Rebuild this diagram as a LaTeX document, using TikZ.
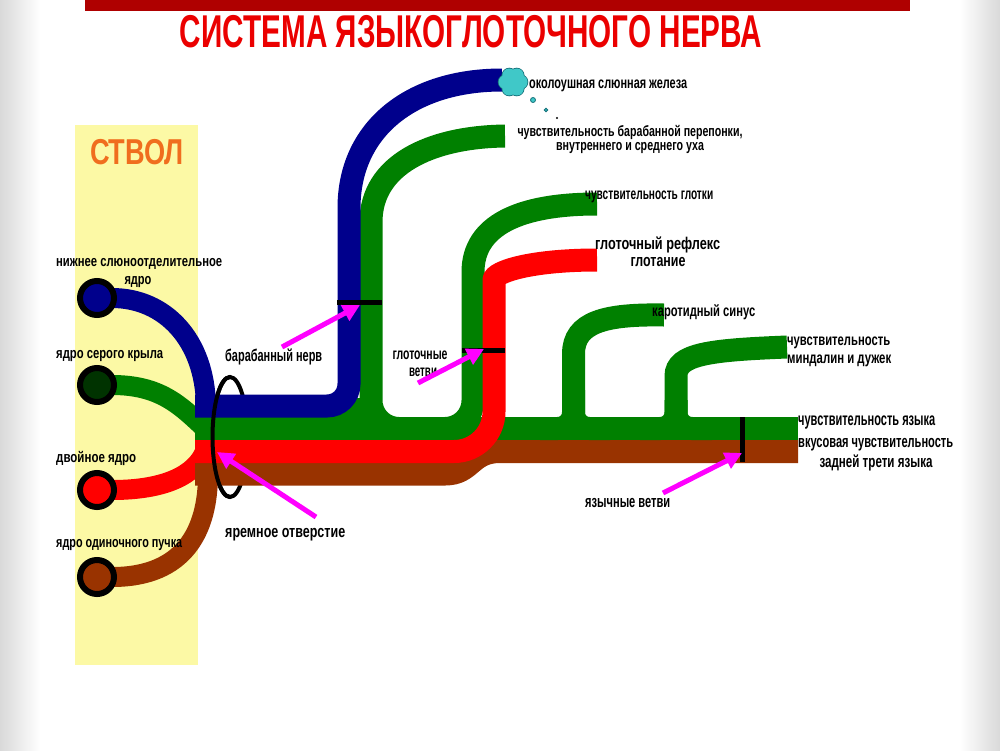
\documentclass[tikz,border=0pt]{standalone}
\usepackage{fontspec}
\setmainfont{Liberation Sans}
\usetikzlibrary{arrows.meta}
\definecolor{nblue}{RGB}{0,0,140}
\definecolor{ngreen}{RGB}{0,128,0}
\definecolor{nred}{RGB}{255,0,0}
\definecolor{nbrown}{RGB}{153,51,0}
\definecolor{ndkgreen}{RGB}{0,51,0}
\definecolor{ncyan}{RGB}{64,200,200}
\definecolor{ncyanline}{RGB}{20,110,120}
\definecolor{nmag}{RGB}{255,0,255}
\definecolor{nyel}{RGB}{252,249,165}
\definecolor{ttlred}{RGB}{235,0,0}
\definecolor{barred}{RGB}{175,0,0}
\definecolor{orng}{RGB}{240,110,30}
\newcommand{\fw}[3]{\resizebox{#1pt}{\height}{\fontsize{#2}{#2}\selectfont\bfseries #3}}
\begin{document}
\begin{tikzpicture}[x=1pt,y=-1pt,
  nerve/.style={line width=23pt},
  conn/.style={line width=20pt},
  nuc/.style={circle,draw=black,line width=6pt,minimum size=34pt,inner sep=0pt},
  lbl/.style={inner sep=0pt,text=black},
  arr/.style={nmag,line width=5pt,-{Triangle[length=17pt,width=17pt]}},
  blackmark/.style={line width=5pt,black}]
\useasboundingbox (0,0) rectangle (1000,750);
\fill[white] (0,0) rectangle (1000,750);
\shade[left color=gray!30,right color=white] (0,0) rectangle (40,750);
\shade[left color=white,right color=gray!30] (960,0) rectangle (1000,750);
\fill[barred] (85,0) rectangle (910,11);
\node[inner sep=0pt,text=ttlred] (title) at (471,32) {\resizebox{582pt}{\height}{\fontsize{46}{46}\selectfont\bfseries СИСТЕМА ЯЗЫКОГЛОТОЧНОГО НЕРВА}};
% panel
\fill[nyel] (75,125) rectangle (198,665);
\node[inner sep=0pt,text=orng] (stvol) at (137,152) {\fw{94}{36}{СТВОЛ}};
% nuclei coordinates
\coordinate (nb) at (97,298);
\coordinate (ng) at (97,385);
\coordinate (nr) at (97,490);
\coordinate (nn) at (97,577);
\coordinate (jf) at (230,437);
% jugular foramen back part
\draw[line width=4pt] (jf) ellipse [x radius=17.5pt,y radius=60pt];
% connectors from nuclei
\draw[conn,nblue] (nb) -- (112,298) .. controls (165,298) and (205,340) .. (206,406);
\draw[conn,ngreen] (ng) -- (112,385) .. controls (160,385) and (180,405) .. (205,428.5);
\draw[conn,nred] (nr) -- (112,490) .. controls (165,490) and (195,475) .. (205,451.5);
\draw[conn,nbrown] (nn) -- (112,577) .. controls (185,577) and (208,530) .. (208,474);
% brown
\draw[nerve,nbrown] (195,474) -- (445,474) .. controls (472,474) and (470,451.5) .. (500,451.5) -- (798,451.5);
% green trunk band
\draw[nerve,ngreen] (195,428.5) -- (798,428.5);
\fill[ngreen] (330,398) rectangle (382,430);
% green U : branches 1 and 2
\draw[nerve,ngreen,rounded corners=28pt] (505,136) .. controls (430,137) and (371,165) .. (371,250) -- (371,428.5) -- (473,428.5) -- (473,300) .. controls (473,225) and (520,204) .. (597,204);
% branch 3
\draw[nerve,ngreen,rounded corners=16pt] (540,428.5) -- (573.5,428.5) -- (573.5,370) .. controls (573.5,322) and (605,314) .. (664,315);
\draw[nerve,ngreen,rounded corners=16pt] (610,428.5) -- (573.5,428.5) -- (573.5,390);
% branch 4
\draw[nerve,ngreen,rounded corners=16pt] (640,428.5) -- (676,428.5) -- (676,392) .. controls (676,354) and (710,350) .. (787,347);
\draw[nerve,ngreen,rounded corners=16pt] (712,428.5) -- (676,428.5) -- (676,400);
% blue
\draw[nerve,nblue,rounded corners=22pt] (195,406) -- (349,406) -- (349,230) .. controls (349,130) and (410,80) .. (502,80);
% red
\draw[nerve,nred,rounded corners=40pt] (195,451.5) -- (494,451.5) -- (494,320) .. controls (494,272) and (530,260) .. (597,260);
% marks
\draw[blackmark] (337,302) -- (382,302);
\draw[blackmark] (462,350) -- (505,350);
\draw[blackmark] (742,417) -- (742,462);
% jugular foramen front part
\draw[line width=4pt] ([yshift=60pt]jf) arc[start angle=90,end angle=270,x radius=17.5pt,y radius=60pt];
% parotid gland
\coordinate (gl) at (513,82);
\foreach \a in {0,60,...,300} \draw[ncyanline,line width=1.5pt] (gl) ++(\a:7.5pt) circle (7pt);
\draw[ncyanline,line width=1.5pt] (gl) circle (8pt);
\foreach \a in {0,60,...,300} \fill[ncyan] (gl) ++(\a:7.5pt) circle (7pt);
\fill[ncyan] (gl) circle (8pt);
\draw[ncyanline,fill=ncyan,line width=0.8pt] (533,100) circle (2.5pt);
\draw[ncyanline,fill=ncyan,line width=0.8pt] (546,110) circle (1.8pt);
\fill[black] (557,118) circle (1.1pt);
% nuclei
\node[nuc,fill=nblue] (nbn) at (nb) {};
\node[nuc,fill=ndkgreen] (ngn) at (ng) {};
\node[nuc,fill=nred] (nrn) at (nr) {};
\node[nuc,fill=nbrown] (nnn) at (nn) {};
% nuclei labels
\node[lbl,anchor=west] (l1) at (56,264) {\fw{166}{15}{нижнее слюноотделительное}};
\node[lbl] (l1b) at (138,282) {\fw{27}{15}{ядро}};
\node[lbl,anchor=west] (l2) at (56,356) {\fw{107}{15}{ядро серого крыла}};
\node[lbl,anchor=west] (l3) at (56,458) {\fw{80}{15}{двойное ядро}};
\node[lbl,anchor=west] (l4) at (56,545) {\fw{126}{15}{ядро одиночного пучка}};
% right labels
\node[lbl,anchor=west] (r1) at (529,86) {\fw{158}{16}{околоушная слюнная железа}};
\node[lbl] (r2) at (630,132) {\fw{225}{15}{чувствительность барабанной перепонки,}};
\node[lbl] (r2b) at (630,148) {\fw{148}{15}{внутреннего и среднего уха}};
\node[lbl,anchor=west] (r3) at (585,197) {\fw{128}{16}{чувствительность глотки}};
\node[lbl,anchor=west] (r4) at (595,245) {\fw{125}{17}{глоточный рефлекс}};
\node[lbl] (r4b) at (658,262) {\fw{55}{17}{глотание}};
\node[lbl,anchor=west] (r5) at (652,312) {\fw{103}{16}{каротидный синус}};
\node[lbl,anchor=west] (r6) at (787,343) {\fw{103}{16}{чувствительность}};
\node[lbl,anchor=west] (r6b) at (787,361) {\fw{104}{16}{миндалин и дужек}};
\node[lbl,anchor=west] (r7) at (798,423) {\fw{137}{18}{чувствительность языка}};
\node[lbl,anchor=west] (r8) at (798,445) {\fw{155}{17}{вкусовая чувствительность}};
\node[lbl] (r8b) at (876,463) {\fw{113}{17}{задней трети языка}};
% inner labels
\node[lbl,anchor=west] (m1) at (225,357) {\fw{97}{17}{барабанный нерв}};
\node[lbl] (m2) at (420,355) {\fw{55}{16}{глоточные}};
\node[lbl] (m2b) at (423,372) {\fw{28}{16}{ветви}};
\node[lbl,anchor=west] (m3) at (225,535) {\fw{120}{17}{яремное отверстие}};
\node[lbl,anchor=west] (m4) at (585,503) {\fw{85}{17}{язычные ветви}};
% arrows
\coordinate (a1t) at (282,347); \coordinate (a1h) at (360,305);
\coordinate (a2t) at (418,383); \coordinate (a2h) at (484,349);
\coordinate (a3t) at (316,517); \coordinate (a3h) at (217,452);
\coordinate (a4t) at (663,493); \coordinate (a4h) at (742,453);
\draw[arr] (a1t) -- (a1h);
\draw[arr] (a2t) -- (a2h);
\draw[arr] (a3t) -- (a3h);
\draw[arr] (a4t) -- (a4h);
\end{tikzpicture}
\end{document}
